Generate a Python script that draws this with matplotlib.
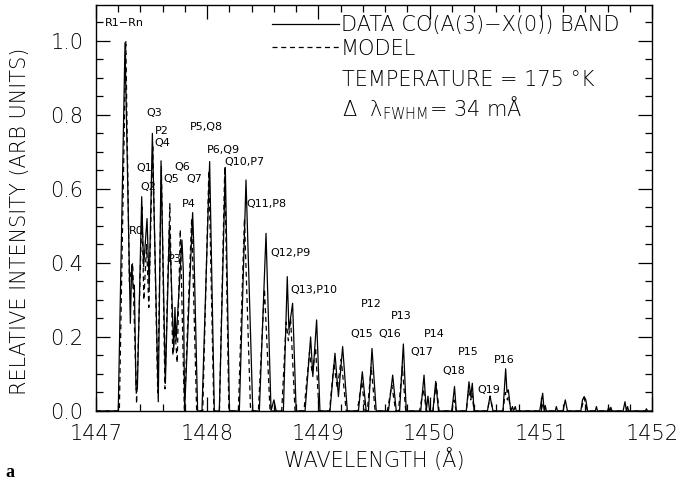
import matplotlib
matplotlib.use("Agg")
import matplotlib.pyplot as plt
from matplotlib.ticker import MultipleLocator, FormatStrFormatter

plt.rcParams['font.family'] = ['DejaVu Sans']
plt.rcParams['font.weight'] = 'light'
plt.rcParams['axes.labelweight'] = 'light'
plt.rcParams['mathtext.fontset'] = 'custom'
plt.rcParams['mathtext.rm'] = 'DejaVu Sans:light'
plt.rcParams['mathtext.it'] = 'DejaVu Sans:light'
plt.rcParams['mathtext.default'] = 'regular'

data_wl = [1447.00, 1447.20, 1447.261, 1447.309, 1447.321, 1447.335, 1447.345, 1447.36, 1447.372,
           1447.411, 1447.428, 1447.459, 1447.478, 1447.507, 1447.56, 1447.585, 1447.624, 1447.66,
           1447.672, 1447.699, 1447.71, 1447.72, 1447.773, 1447.785, 1447.797, 1447.869, 1447.88,
           1447.914, 1447.953, 1448.022, 1448.064, 1448.109, 1448.163, 1448.20, 1448.289, 1448.349,
           1448.41, 1448.469, 1448.529, 1448.574, 1448.60, 1448.62, 1448.685, 1448.72, 1448.735,
           1448.768, 1448.80, 1448.88, 1448.93, 1448.95, 1448.984, 1449.014, 1449.104, 1449.149,
           1449.18, 1449.218, 1449.26, 1449.36, 1449.395, 1449.43, 1449.45, 1449.482, 1449.52,
           1449.63, 1449.668, 1449.70, 1449.73, 1449.764, 1449.79, 1449.92, 1449.95, 1449.97,
           1449.985, 1450.00, 1450.03, 1450.055, 1450.08, 1450.20, 1450.224, 1450.24, 1450.33,
           1450.354, 1450.37, 1450.384, 1450.40, 1450.52, 1450.543, 1450.57, 1450.66, 1450.684,
           1450.696, 1450.708, 1450.73, 1450.745, 1450.755, 1450.77, 1450.78, 1450.99, 1451.017,
           1451.03, 1451.04, 1451.05, 1451.13, 1451.14, 1451.15, 1451.20, 1451.22, 1451.24,
           1451.36, 1451.375, 1451.39, 1451.405, 1451.42, 1451.49, 1451.50, 1451.51, 1451.60,
           1451.61, 1451.62, 1451.63, 1451.64, 1451.74, 1451.757, 1451.77, 1451.78, 1451.79,
           1451.94, 1451.95, 1451.96, 1452.00]
data_int = [0.0, 0.0, 0.995, 0.237, 0.395, 0.33, 0.34, 0.057, 0.06,
            0.579, 0.39, 0.52, 0.336, 0.75, 0.025, 0.676, 0.075, 0.498,
            0.40, 0.165, 0.28, 0.19, 0.462, 0.38, 0.0, 0.536, 0.44,
            0.0, 0.0, 0.674, 0.0, 0.0, 0.658, 0.0, 0.0, 0.624,
            0.0, 0.0, 0.48, 0.0, 0.03, 0.0, 0.0, 0.363, 0.219,
            0.291, 0.0, 0.0, 0.20, 0.093, 0.246, 0.0, 0.0, 0.156,
            0.039, 0.174, 0.0, 0.0, 0.106, 0.0, 0.0, 0.169, 0.0,
            0.0, 0.097, 0.0, 0.0, 0.181, 0.0, 0.0, 0.097, 0.0,
            0.04, 0.0, 0.0, 0.08, 0.0, 0.0, 0.066, 0.0, 0.0,
            0.079, 0.04, 0.075, 0.0, 0.0, 0.04, 0.0, 0.0, 0.114,
            0.05, 0.057, 0.0, 0.012, 0.0, 0.012, 0.0, 0.0, 0.048,
            0.0, 0.015, 0.0, 0.0, 0.012, 0.0, 0.0, 0.03, 0.0,
            0.0, 0.03, 0.039, 0.03, 0.0, 0.0, 0.012, 0.0, 0.0,
            0.01, 0.0, 0.01, 0.0, 0.0, 0.025, 0.0, 0.012, 0.0,
            0.0, 0.006, 0.0, 0.0]

# ---- Model spectrum ----
model_wl = [1447.00, 1447.21, 1447.268, 1447.30, 1447.33, 1447.365, 1447.414, 1447.43, 1447.455,
            1447.475, 1447.51, 1447.555, 1447.588, 1447.62, 1447.664, 1447.69, 1447.71, 1447.73,
            1447.758, 1447.795, 1447.86, 1447.905, 1447.96, 1448.015, 1448.06, 1448.11, 1448.158,
            1448.195, 1448.28, 1448.335, 1448.39, 1448.46, 1448.515, 1448.565, 1448.67, 1448.71,
            1448.73, 1448.75, 1448.79, 1448.87, 1448.92, 1448.945, 1448.975, 1449.005, 1449.10,
            1449.14, 1449.17, 1449.205, 1449.25, 1449.35, 1449.39, 1449.42, 1449.44, 1449.475,
            1449.51, 1449.62, 1449.66, 1449.695, 1449.72, 1449.755, 1449.785, 1449.91, 1449.945,
            1449.97, 1450.03, 1450.06, 1450.085, 1450.20, 1450.22, 1450.24, 1450.33, 1450.35,
            1450.37, 1450.38, 1450.40, 1450.52, 1450.545, 1450.57, 1450.66, 1450.68, 1450.70,
            1450.71, 1450.73, 1451.00, 1451.02, 1451.04, 1451.36, 1451.39, 1451.42, 1452.00]
model_int = [0.0, 0.0, 1.0, 0.35, 0.40, 0.02, 0.55, 0.30, 0.45,
             0.28, 0.72, 0.05, 0.66, 0.06, 0.56, 0.15, 0.22, 0.13,
             0.49, 0.0, 0.52, 0.0, 0.0, 0.65, 0.0, 0.0, 0.66,
             0.0, 0.0, 0.52, 0.0, 0.0, 0.33, 0.0, 0.0, 0.24,
             0.19, 0.25, 0.0, 0.0, 0.16, 0.10, 0.17, 0.0, 0.0,
             0.13, 0.06, 0.14, 0.0, 0.0, 0.08, 0.0, 0.0, 0.12,
             0.0, 0.0, 0.07, 0.0, 0.0, 0.12, 0.0, 0.0, 0.06,
             0.0, 0.0, 0.075, 0.0, 0.0, 0.03, 0.0, 0.0, 0.055,
             0.03, 0.05, 0.0, 0.0, 0.04, 0.0, 0.0, 0.05, 0.03,
             0.04, 0.0, 0.0, 0.02, 0.0, 0.0, 0.035, 0.0, 0.0]

# ---- Line identifications: (label, wavelength, intensity) ----
line_labels = ["R1\u2212Rn", "Q3", "P2", "Q4", "P5,Q8", "P6,Q9", "Q10,P7", "Q1", "Q6", "Q5",
               "Q7", "Q2", "P4", "Q11,P8", "R0", "Q12,P9", "P3", "Q13,P10", "P12", "Q15",
               "Q16", "P13", "P14", "Q17", "P15", "P16", "Q18", "Q19"]
label_wl = [1447.081, 1447.45, 1447.531, 1447.522, 1447.845, 1448.001, 1448.151, 1447.366,
            1447.701, 1447.605, 1447.815, 1447.402, 1447.77, 1448.349, 1447.30, 1448.565,
            1447.65, 1448.751, 1449.38, 1449.29, 1449.541, 1449.65, 1449.95, 1449.83,
            1450.253, 1450.582, 1450.118, 1450.43]
label_int = [1.049, 0.805, 0.757, 0.725, 0.767, 0.705, 0.674, 0.656, 0.66, 0.626,
             0.626, 0.605, 0.559, 0.559, 0.486, 0.428, 0.41, 0.327, 0.288, 0.208,
             0.208, 0.258, 0.208, 0.159, 0.159, 0.138, 0.108, 0.057]

fig = plt.figure(figsize=(6.96, 4.83), dpi=100)
ax = fig.add_axes([96/696, (483-411)/483, (652-96)/696, (411-5)/483])

l1, = ax.plot(data_wl, data_int, color='black', lw=0.9, linestyle='-')
l2, = ax.plot(model_wl, model_int, color='black', lw=0.9, linestyle=(0, (4, 3)))

for lab, xw, yi in zip(line_labels, label_wl, label_int):
    ax.text(xw, yi, lab, fontsize=8, ha='left', va='center', color='black', weight='normal')

ax.set_xlim(1447, 1452)
ax.set_ylim(0, 1.097)
ax.xaxis.set_major_locator(MultipleLocator(1))
ax.xaxis.set_minor_locator(MultipleLocator(0.2))
ax.yaxis.set_major_locator(MultipleLocator(0.2))
ax.yaxis.set_minor_locator(MultipleLocator(0.05))
ax.yaxis.set_major_formatter(FormatStrFormatter('%.1f'))
ax.xaxis.set_major_formatter(FormatStrFormatter('%d'))
ax.tick_params(which='both', direction='in', top=True, right=True, width=0.9, labelsize=15, pad=9)
ax.tick_params(which='major', length=10)
ax.tick_params(which='minor', length=5)
for s in ax.spines.values():
    s.set_linewidth(1.0)

ax.set_xlabel("WAVELENGTH (\u00c5)", fontsize=15, labelpad=3, weight='light')
ax.set_ylabel("RELATIVE INTENSITY (ARB UNITS)", fontsize=15, weight='light')
ax.yaxis.set_label_coords(-0.119, 0.466)

leg = ax.legend([l1, l2], ["DATA CO(A(3)\u2212X(0)) BAND", "MODEL"], loc='upper left',
                bbox_to_anchor=(0.294, 1.005), frameon=False, fontsize=15,
                handlelength=3.2, handletextpad=0.1, labelspacing=0.15, borderaxespad=0.2)
ax.text(0.4425, 0.815, "TEMPERATURE = 175 \u00b0K", transform=ax.transAxes,
        fontsize=15, ha='left', va='center')
ax.text(0.4425, 0.746, "\u0394  \u03bb$_{\\mathregular{FWHM}}$= 34 m\u00c5", transform=ax.transAxes,
        fontsize=15, ha='left', va='center')

fig.text(5/696, 1 - 477/483, "a", fontsize=13, fontweight='bold', family='Liberation Serif',
         ha='left', va='baseline')

fig.savefig("out.png", dpi=100)
